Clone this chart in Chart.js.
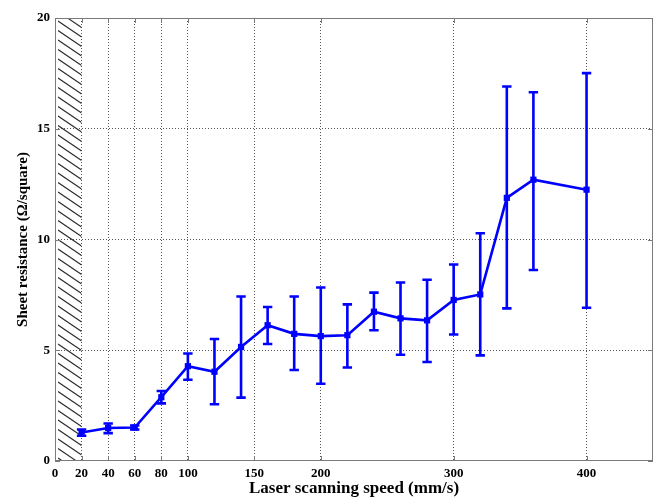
<!DOCTYPE html>
<html>
<head>
<meta charset="utf-8">
<script src="https://cdn.jsdelivr.net/npm/chart.js@4.4.1/dist/chart.umd.min.js"></script>
<style>
  body { margin: 0; background: #fff; }
  #wrap { width: 654px; height: 502px; }
</style>
</head>
<body>
<div id="wrap"><canvas id="grafico" width="654" height="502"></canvas></div>
<script>
// Dados
const speeds = [20, 40, 60, 80, 100, 120, 140, 160, 180, 200, 220, 240, 260, 280, 300, 320, 340, 360, 400];
const resistance = [1.29, 1.49, 1.51, 2.88, 4.28, 4.03, 5.15, 6.13, 5.74, 5.64, 5.68, 6.74, 6.44, 6.35, 7.27, 7.52, 11.88, 12.70, 12.25];
const errUpper = [1.42, 1.69, 1.60, 3.16, 4.85, 5.51, 7.43, 6.95, 7.43, 7.83, 7.07, 7.60, 8.06, 8.18, 8.87, 10.28, 16.91, 16.65, 17.51];
const errLower = [1.14, 1.26, 1.42, 2.60, 3.67, 2.56, 2.86, 5.28, 4.11, 3.49, 4.22, 5.90, 4.80, 4.47, 5.71, 4.77, 6.89, 8.62, 6.92];
const xTicks = [0, 20, 40, 60, 80, 100, 150, 200, 300, 400];
const yTicks = [0, 5, 10, 15, 20];
const hatchEnd = 20;

const blue = '#0000ff';
const frameColor = '#7a7a7a';
const gridColor = '#555555';

//Plugin: área hachurada à esquerda
const hatchPlugin = {
    id: 'hatch',
    beforeDatasetsDraw(chart) {
        const {ctx, chartArea, scales} = chart;
        const x0 = chartArea.left + 3;
        const x1 = scales.x.getPixelForValue(hatchEnd);
        ctx.save();
        ctx.beginPath();
        ctx.rect(x0, chartArea.top, x1 - x0, chartArea.bottom - chartArea.top);
        ctx.clip();
        ctx.strokeStyle = '#2a2a2a';
        ctx.lineWidth = 1.1;
        const w = x1 - x0;
        const slope = 0.68;
        for (let y = chartArea.top - w * slope; y < chartArea.bottom + 10; y += 9.5) {
            ctx.beginPath();
            ctx.moveTo(x0, y);
            ctx.lineTo(x1, y + w * slope);
            ctx.stroke();
        }
        ctx.restore();
    }
};

//Plugin: barras de erro
const errorBarPlugin = {
    id: 'errorBars',
    afterDatasetsDraw(chart) {
        const {ctx, scales} = chart;
        ctx.save();
        ctx.strokeStyle = blue;
        ctx.lineWidth = 2.6;
        speeds.forEach((s, i) => {
            const x = scales.x.getPixelForValue(s);
            const yt = scales.y.getPixelForValue(errUpper[i]);
            const yb = scales.y.getPixelForValue(errLower[i]);
            ctx.beginPath();
            ctx.moveTo(x, yt); ctx.lineTo(x, yb);
            ctx.moveTo(x - 4.7, yt); ctx.lineTo(x + 4.7, yt);
            ctx.moveTo(x - 4.7, yb); ctx.lineTo(x + 4.7, yb);
            ctx.stroke();
        });
        ctx.restore();
    }
};

//Plugin: moldura e marcas internas (estilo MATLAB)
const framePlugin = {
    id: 'frame',
    afterDraw(chart) {
        const {ctx, chartArea: a, scales} = chart;
        ctx.save();
        ctx.strokeStyle = frameColor;
        ctx.lineWidth = 1;
        ctx.strokeRect(a.left + 0.5, a.top + 0.5, a.right - a.left - 1, a.bottom - a.top - 1);
        ctx.beginPath();
        xTicks.forEach(v => {
            const x = Math.round(scales.x.getPixelForValue(v)) + 0.5;
            ctx.moveTo(x, a.bottom); ctx.lineTo(x, a.bottom - 5);
            ctx.moveTo(x, a.top); ctx.lineTo(x, a.top + 5);
        });
        yTicks.forEach(v => {
            const y = Math.round(scales.y.getPixelForValue(v)) + 0.5;
            ctx.moveTo(a.left, y); ctx.lineTo(a.left + 5, y);
            ctx.moveTo(a.right, y); ctx.lineTo(a.right - 5, y);
        });
        ctx.stroke();
        ctx.restore();
    }
};

const ctx = document.getElementById('grafico').getContext('2d');
new Chart(ctx, {
    type: 'line',
    data: {
        datasets: [{
            data: speeds.map((s, i) => ({x: s, y: resistance[i]})),
            borderColor: blue,
            backgroundColor: blue,
            borderWidth: 2.6,
            pointStyle: 'rect',
            pointRadius: 4.4,
            pointBorderWidth: 0,
            tension: 0
        }]
    },
    options: {
        responsive: false,
        animation: false,
        devicePixelRatio: 1,
        layout: {
            autoPadding: false,
            padding: {top: 18, right: 1, left: 0, bottom: 0}
        },
        plugins: {
            legend: {display: false},
            tooltip: {enabled: false}
        },
        scales: {
            x: {
                type: 'linear',
                min: 0,
                max: 450,
                afterBuildTicks: scale => {
                    scale.ticks = xTicks.map(v => ({value: v}));
                },
                afterFit: scale => { scale.height = 41; },
                grid: {
                    drawTicks: false,
                    color: c => (c.tick && c.tick.value === 0) ? 'transparent' : gridColor,
                    lineWidth: 1
                },
                border: {display: false, dash: [1, 2]},
                ticks: {
                    color: '#000',
                    padding: 5,
                    maxRotation: 0,
                    autoSkip: false,
                    font: {family: 'Liberation Serif', size: 13, weight: 'bold'}
                },
                title: {
                    display: true,
                    text: 'Laser scanning speed (mm/s)',
                    color: '#000',
                    font: {family: 'Liberation Serif', size: 17, weight: 'bold'},
                    padding: {top: 0, bottom: 3}
                }
            },
            y: {
                min: 0,
                max: 20,
                afterBuildTicks: scale => {
                    scale.ticks = yTicks.map(v => ({value: v}));
                },
                afterFit: scale => { scale.width = 55; },
                grid: {
                    drawTicks: false,
                    color: c => (c.tick && (c.tick.value === 0 || c.tick.value === 20)) ? 'transparent' : gridColor,
                    lineWidth: 1
                },
                border: {display: false, dash: [1, 2]},
                ticks: {
                    color: '#000',
                    padding: 5,
                    font: {family: 'Liberation Serif', size: 13, weight: 'bold'}
                },
                title: {
                    display: true,
                    text: 'Sheet resistance (Ω/square)',
                    color: '#000',
                    font: {family: 'Liberation Serif', size: 15, weight: 'bold'},
                    padding: {top: 14, bottom: 0}
                }
            }
        }
    },
    plugins: [hatchPlugin, errorBarPlugin, framePlugin]
});
</script>
</body>
</html>
